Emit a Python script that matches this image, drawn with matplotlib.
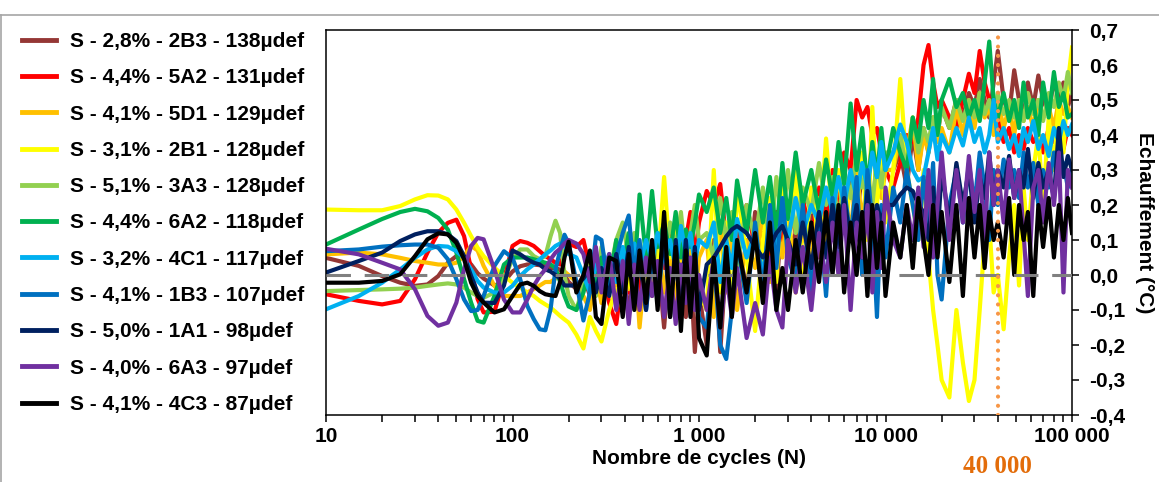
import matplotlib
matplotlib.use("Agg")
import matplotlib.pyplot as plt
from matplotlib.lines import Line2D
from matplotlib.ticker import FixedLocator, FixedFormatter, LogLocator, NullFormatter
import matplotlib.transforms as mtransforms

# ---------------- data ----------------
cycles = [10, 15, 20, 25, 30, 35, 40, 45, 50, 55, 60, 65, 70, 80, 90, 100, 110, 120, 130, 140,
          150, 160, 170, 180, 190, 200,
          220, 240, 260, 280, 300, 330, 360, 390, 420, 450, 480, 520, 560, 600, 650, 700, 750, 800, 850, 900,
          950, 1000,
          1100, 1200, 1300, 1400, 1500, 1600, 1800, 2000, 2200, 2400, 2600, 2800, 3000, 3300, 3600, 4000,
          4400, 4800, 5200, 5600, 6000, 6500, 7000, 7500, 8000, 8500, 9000, 9500, 10000,
          11000, 12000, 13000, 14000, 15000, 16000, 17000, 18000, 19000, 20000, 22000, 24000, 26000, 28000,
          30000, 32000, 34000, 36000, 38000, 40000, 43000, 46000, 49000, 52000, 55000, 58000, 62000, 66000,
          70000, 75000, 80000, 85000, 90000, 95000, 100000]

s_2B3 = [0.049, 0.026, -0.003, -0.022, -0.031, -0.027, -0.003, 0.035, 0.054, 0.050,
         0.030, 0.005, -0.010, -0.030, -0.020, 0.010, 0.025, 0.030, 0.030, 0.028,
         0.025, 0.020, 0.020, 0.015, 0.000, -0.020,
         -0.04, 0.00, -0.06, 0.04, -0.04, 0.05, -0.08, 0.03, -0.12, 0.06,
         -0.05, 0.08, -0.06, 0.05, -0.15, 0.06, -0.10, 0.04, -0.12, 0.02,
         -0.22, -0.05,
         -0.20, 0.10, -0.22, 0.05, -0.10, 0.12, -0.05, 0.18, 0.00, 0.15,
         -0.05, 0.20, 0.05, 0.12, -0.02, 0.18, 0.05, 0.22, 0.10, 0.25,
         0.12, 0.28, 0.15, 0.30, 0.20, 0.40, 0.25, 0.35, 0.30,
         0.30, 0.35, 0.25, 0.40, 0.30, 0.42, 0.35, 0.45, 0.40, 0.48,
         0.42, 0.50, 0.45, 0.52, 0.48, 0.56, 0.50, 0.45, 0.55, 0.64,
         0.50, 0.46, 0.585, 0.50, 0.45, 0.55, 0.48, 0.57, 0.50, 0.46,
         0.56, 0.50, 0.55, 0.48, 0.52]

s_5A2 = [-0.055, -0.074, -0.084, -0.074, -0.012, 0.064, 0.121, 0.149, 0.158, 0.111,
         0.016, -0.069, -0.107, -0.105, -0.012, 0.083, 0.097, 0.092, 0.083, 0.068,
         0.054, 0.045, 0.035, 0.030, 0.060, 0.090,
         0.08, 0.10, 0.02, -0.05, 0.05, -0.08, -0.14, 0.00, -0.05, 0.05,
         -0.06, 0.08, -0.02, 0.12, 0.02, 0.10, 0.14, 0.00, 0.10, 0.18,
         0.05, 0.15,
         0.24, 0.20, 0.26, 0.10, 0.15, 0.05, 0.20, 0.08, 0.12, 0.04,
         0.18, 0.10, 0.20, 0.12, 0.22, 0.10, 0.25, 0.15, 0.30, 0.20,
         0.35, 0.30, 0.50, 0.45, 0.48, 0.40, 0.42, 0.35, 0.30,
         0.25, 0.32, 0.40, 0.38, 0.45, 0.60, 0.657, 0.55, 0.48, 0.50,
         0.45, 0.42, 0.50, 0.575, 0.52, 0.64, 0.55, 0.50, 0.42, 0.45,
         0.38, 0.42, 0.35, 0.40, 0.36, 0.42, 0.38, 0.40, 0.35, 0.42,
         0.38, 0.40, 0.36, 0.42, 0.40]

s_5D1 = [0.059, 0.064, 0.059, 0.049, 0.040, 0.035, 0.030, 0.030, 0.035, 0.054,
         0.083, 0.070, 0.026, -0.031, -0.060, -0.060, -0.060, -0.050, -0.040, -0.030,
         -0.020, -0.020, -0.010, 0.000, 0.010, 0.000,
         -0.02, -0.06, -0.10, 0.00, -0.08, 0.04, -0.05, 0.06, -0.04, 0.08,
         -0.15, 0.05, -0.02, 0.10, -0.05, 0.08, -0.10, 0.10, -0.05, 0.12,
         -0.08, 0.05,
         0.10, -0.12, 0.15, -0.05, 0.12, -0.10, 0.10, 0.02, 0.18, -0.02,
         0.15, 0.05, 0.20, -0.05, 0.12, 0.05, 0.22, 0.08, 0.20, 0.10,
         0.25, 0.12, 0.30, 0.15, 0.28, 0.20, 0.32, 0.22, 0.30,
         0.30, 0.40, 0.35, 0.45, 0.30, 0.40, 0.35, 0.45, 0.38, 0.42,
         0.35, 0.48, 0.40, 0.50, 0.42, 0.52, 0.45, 0.48, 0.40, 0.50,
         0.42, 0.48, 0.40, 0.50, 0.44, 0.48, 0.42, 0.50, 0.45, 0.48,
         0.42, 0.50, 0.46, 0.48, 0.45]

s_2B1 = [0.187, 0.185, 0.185, 0.197, 0.216, 0.228, 0.227, 0.216, 0.187, 0.149,
         0.111, 0.078, 0.054, 0.021, -0.003, -0.022, -0.036, -0.050, -0.060, -0.074,
         -0.084, -0.093, -0.105, -0.117, -0.127, -0.136,
         -0.17, -0.21, -0.12, -0.16, -0.19, -0.10, -0.04, -0.10, 0.00, -0.08,
         0.05, -0.02, 0.08, 0.02, 0.28, 0.05, 0.14, -0.05, 0.10, -0.10,
         0.05, -0.05,
         -0.10, 0.30, -0.05, 0.15, -0.12, 0.25, 0.05, -0.16, 0.10, 0.22,
         -0.02, 0.28, 0.06, 0.30, 0.00, 0.25, 0.10, 0.39, 0.15, 0.30,
         0.12, 0.25, 0.20, 0.35, 0.10, 0.48, 0.20, 0.35, 0.15,
         0.30, 0.56, 0.30, 0.20, 0.10, 0.30, 0.05, -0.10, -0.20, -0.30,
         -0.35, -0.10, -0.25, -0.36, -0.30, -0.10, 0.10, 0.15, -0.05, 0.00,
         -0.155, 0.05, 0.20, -0.03, 0.25, 0.10, 0.30, 0.40, 0.20, 0.45,
         0.30, 0.50, 0.35, 0.55, 0.65]

s_3A3 = [-0.046, -0.043, -0.041, -0.039, -0.036, -0.031, -0.027, -0.024, -0.027, -0.036,
         -0.050, -0.060, -0.065, -0.050, -0.012, 0.045, 0.073, 0.073, 0.054, 0.045,
         0.054, 0.111, 0.155, 0.120, 0.000, -0.060,
         -0.10, -0.03, 0.03, -0.06, 0.08, 0.00, 0.10, 0.15, 0.05, 0.12,
         0.02, 0.10, 0.00, 0.12, 0.05, 0.15, 0.08, 0.18, 0.04, 0.12,
         0.20, 0.10,
         0.12, 0.05, 0.22, 0.10, 0.18, 0.02, 0.20, 0.10, 0.25, 0.08,
         0.28, 0.15, 0.30, 0.12, 0.25, 0.18, 0.32, 0.20, 0.28, 0.15,
         0.30, 0.22, 0.35, 0.25, 0.30, 0.20, 0.33, 0.25, 0.35,
         0.35, 0.40, 0.30, 0.45, 0.35, 0.42, 0.38, 0.45, 0.40, 0.48,
         0.42, 0.50, 0.44, 0.50, 0.45, 0.52, 0.46, 0.50, 0.44, 0.52,
         0.46, 0.50, 0.45, 0.50, 0.44, 0.52, 0.46, 0.50, 0.44, 0.52,
         0.48, 0.55, 0.50, 0.58, 0.52]

s_6A2 = [0.087, 0.130, 0.160, 0.180, 0.189, 0.182, 0.163, 0.130, 0.064, -0.012,
         -0.079, -0.131, -0.136, -0.060, 0.030, 0.050, 0.050, 0.050, 0.045, 0.040,
         0.035, 0.030, 0.020, -0.020, -0.060, -0.090,
         -0.10, -0.05, 0.02, -0.02, 0.05, -0.03, 0.10, 0.02, 0.12, 0.00,
         0.23, 0.05, 0.24, 0.08, 0.15, 0.06, 0.18, 0.05, 0.13, 0.08,
         0.15, 0.23,
         0.18, 0.25, 0.12, 0.22, 0.10, 0.27, 0.12, 0.30, 0.15, 0.28,
         0.12, 0.32, 0.16, 0.35, 0.20, 0.30, 0.18, 0.33, 0.22, 0.38,
         0.26, 0.49, 0.30, 0.42, 0.25, 0.38, 0.28, 0.42, 0.30,
         0.42, 0.35, 0.30, 0.45, 0.38, 0.50, 0.42, 0.56, 0.40, 0.50,
         0.56, 0.48, 0.52, 0.45, 0.50, 0.44, 0.55, 0.667, 0.50, 0.45,
         0.52, 0.44, 0.50, 0.42, 0.55, 0.45, 0.50, 0.40, 0.55, 0.45,
         0.58, 0.48, 0.52, 0.45, 0.46]

s_4C1 = [-0.098, -0.060, -0.022, 0.016, 0.049, 0.073, 0.083, 0.081, 0.068, 0.049,
         0.016, -0.017, -0.036, -0.050, -0.050, -0.031, -0.003, 0.016, 0.030, 0.045,
         0.059, 0.070, 0.083, 0.090, 0.085, 0.060,
         0.05, 0.00, -0.05, 0.03, 0.00, 0.06, -0.02, 0.08, 0.00, 0.09,
         0.02, 0.10, 0.04, 0.12, 0.05, 0.10, 0.02, 0.14, 0.06, 0.12,
         0.03, 0.10,
         0.08, 0.15, -0.02, 0.10, 0.02, 0.16, 0.05, 0.12, 0.00, 0.14,
         0.08, 0.18, 0.10, 0.22, 0.12, 0.20, 0.15, 0.25, 0.18, 0.28,
         0.20, 0.30, 0.22, 0.32, 0.25, 0.35, 0.28, 0.38, 0.30,
         0.35, 0.43, 0.38, 0.30, 0.27, 0.28, 0.35, 0.42, 0.33, 0.40,
         0.35, 0.42, 0.37, 0.45, 0.38, 0.42, 0.35, 0.40, 0.50, 0.38,
         0.42, 0.36, 0.40, 0.34, 0.42, 0.38, 0.44, 0.36, 0.40, 0.34,
         0.42, 0.38, 0.44, 0.40, 0.43]

s_1B3 = [0.068, 0.073, 0.081, 0.085, 0.087, 0.087, 0.078, 0.045, -0.012, -0.070,
         -0.103, -0.100, -0.060, 0.026, 0.068, 0.049, -0.012, -0.088, -0.126, -0.155,
         -0.158, -0.098, 0.016, 0.070, 0.115, 0.090,
         -0.02, -0.13, -0.05, 0.11, 0.10, -0.05, 0.05, 0.12, 0.17, 0.00,
         0.10, -0.10, 0.05, -0.08, 0.10, -0.05, 0.05, -0.10, 0.08, -0.05,
         0.06, -0.12,
         -0.15, 0.05, -0.20, -0.24, -0.10, 0.10, -0.08, 0.15, -0.05, 0.20,
         0.02, 0.22, 0.05, -0.02, 0.20, -0.05, 0.18, -0.06, 0.22, 0.05,
         0.25, 0.10, 0.28, 0.00, 0.30, 0.15, -0.12, 0.20, 0.05,
         0.25, 0.15, 0.30, 0.20, 0.10, 0.28, 0.15, 0.32, 0.00, -0.07,
         0.20, 0.30, 0.15, 0.32, 0.20, 0.35, 0.25, 0.10, 0.30, 0.20,
         0.33, 0.25, 0.30, 0.22, 0.35, 0.25, 0.32, 0.20, 0.30, 0.25,
         0.35, 0.28, 0.32, 0.25, 0.30]

s_1A1 = [0.007, 0.040, 0.064, 0.097, 0.116, 0.125, 0.125, 0.116, 0.097, 0.054,
         -0.003, -0.050, -0.079, -0.080, -0.030, 0.070, 0.059, 0.045, 0.035, 0.030,
         0.016, 0.010, 0.000, -0.010, -0.030, -0.030,
         -0.03, -0.01, 0.02, -0.05, 0.02, -0.06, 0.06, -0.05, 0.08, -0.08,
         0.05, -0.10, 0.08, -0.05, 0.12, -0.12, 0.10, -0.08, 0.10, -0.06,
         0.08, -0.10,
         0.03, 0.05, 0.08, 0.11, 0.13, 0.14, 0.12, 0.08, 0.05, 0.08,
         0.12, 0.14, 0.10, 0.03, 0.15, 0.02, 0.18, 0.05, 0.20, 0.08,
         0.22, 0.10, 0.20, 0.05, 0.24, 0.12, 0.20, 0.15, 0.20,
         0.20, 0.23, 0.25, 0.24, 0.20, 0.18, 0.10, 0.25, 0.10, 0.30,
         0.15, 0.32, 0.20, 0.30, 0.15, 0.28, 0.22, 0.35, 0.20, 0.30,
         0.25, 0.34, 0.22, 0.30, 0.25, 0.36, 0.22, 0.32, 0.25, 0.30,
         0.22, 0.42, 0.28, 0.34, 0.30]

s_6A3 = [0.075, 0.059, 0.035, 0.016, -0.041, -0.117, -0.145, -0.136, -0.079, 0.016,
         0.083, 0.106, 0.102, 0.016, -0.070, -0.107, -0.107, -0.070, -0.031, -0.003,
         0.016, 0.045, 0.064, 0.075, 0.090, 0.100,
         0.09, 0.06, -0.02, 0.08, -0.05, 0.06, -0.10, 0.04, -0.14, 0.03,
         -0.10, 0.05, -0.06, 0.04, -0.12, 0.02, -0.14, 0.03, -0.08, 0.05,
         -0.10, 0.00,
         -0.10, 0.05, -0.15, 0.00, -0.12, 0.02, -0.18, -0.08, -0.17, 0.05,
         -0.10, -0.15, 0.10, -0.05, 0.08, -0.10, 0.12, -0.02, 0.15, 0.00,
         0.20, -0.10, 0.15, 0.05, 0.20, -0.05, 0.18, 0.02, 0.25,
         0.10, 0.05, 0.20, 0.10, 0.25, 0.08, 0.30, 0.05, 0.20, 0.35,
         0.10, 0.30, 0.15, 0.34, 0.18, 0.30, 0.10, 0.35, 0.20, 0.30,
         0.15, 0.33, 0.22, 0.30, 0.12, -0.06, 0.25, 0.30, 0.15, 0.32,
         0.20, 0.35, -0.05, 0.30, 0.25]

s_4C3 = [-0.022, -0.022, -0.017, 0.002, 0.054, 0.102, 0.119, 0.116, 0.092, 0.045,
         -0.022, -0.060, -0.079, -0.107, -0.098, -0.060, -0.027, -0.022, -0.031, -0.046,
         -0.055, -0.058, -0.060, -0.020, 0.050, 0.095,
         -0.05, 0.00, 0.07, -0.12, -0.14, 0.05, 0.04, -0.12, 0.06, -0.10,
         0.07, -0.08, 0.10, -0.10, 0.18, -0.12, 0.08, -0.16, 0.07, -0.12,
         0.06, -0.18,
         -0.23, 0.05, -0.15, 0.08, -0.12, 0.10, -0.05, 0.12, -0.08, 0.15,
         -0.10, 0.02, -0.10, 0.10, -0.05, 0.15, -0.02, 0.18, 0.00, 0.20,
         -0.05, 0.15, 0.00, 0.18, -0.06, 0.20, 0.02, 0.15, -0.06,
         0.15, 0.05, 0.20, 0.02, 0.22, 0.10, 0.00, 0.20, 0.05, 0.18,
         -0.02, 0.20, -0.06, 0.22, 0.05, 0.20, 0.02, 0.18, 0.10, 0.15,
         0.05, 0.22, 0.00, 0.20, 0.10, 0.18, -0.06, 0.20, 0.08, 0.22,
         0.05, 0.20, 0.10, 0.22, 0.12]

series_labels = ["S - 2,8% - 2B3 - 138µdef", "S - 4,4% - 5A2 - 131µdef", "S - 4,1% - 5D1 - 129µdef",
                 "S - 3,1% - 2B1 - 128µdef", "S - 5,1% - 3A3 - 128µdef", "S - 4,4% - 6A2 - 118µdef",
                 "S - 3,2% - 4C1 - 117µdef", "S - 4,1% - 1B3 - 107µdef", "S - 5,0% - 1A1 - 98µdef",
                 "S - 4,0% - 6A3 - 97µdef", "S - 4,1% - 4C3 - 87µdef"]
series_values = [s_2B3, s_5A2, s_5D1, s_2B1, s_3A3, s_6A2, s_4C1, s_1B3, s_1A1, s_6A3, s_4C3]
series_colors = ["#953735", "#FF0000", "#FFC000", "#FFFF00", "#92D050", "#00B050",
                 "#00B0F0", "#0070C0", "#002060", "#7030A0", "#000000"]

x_ticks = [10, 100, 1000, 10000, 100000]
x_tick_labels = ["10", "100", "1 000", "10 000", "100 000"]
y_ticks = [-0.4, -0.3, -0.2, -0.1, 0.0, 0.1, 0.2, 0.3, 0.4, 0.5, 0.6, 0.7]
y_tick_labels = ["-0,4", "-0,3", "-0,2", "-0,1", "0,0", "0,1", "0,2", "0,3", "0,4", "0,5", "0,6", "0,7"]
marker_cycles = 40000
marker_label = "40 000"

for v in series_values:
    if len(v) != len(cycles):
        raise ValueError("length mismatch %d vs %d" % (len(v), len(cycles)))

# ---------------- figure ----------------
W, H = 1159, 482
fig = plt.figure(figsize=(W / 100, H / 100), dpi=100)
plt.rcParams['font.family'] = ['Liberation Sans', 'DejaVu Sans']
plt.rcParams['font.weight'] = 'bold'

ax = fig.add_axes([326 / W, 1 - 415 / H, (1072 - 326) / W, (415 - 30) / H])

handles = []
for vals, col, lab in zip(series_values, series_colors, series_labels):
    h, = ax.plot(cycles, vals, color=col, lw=3.0, label=lab, solid_joinstyle='round')
    handles.append(h)

ax.plot([cycles[0], cycles[-1]], [0, 0], color='#808080', lw=2.2, ls=(0, (8, 4.5)), zorder=5)
ax.axvline(marker_cycles, color='#F79646', lw=3.0, ls=(0, (0.01, 2.2)),
           dash_capstyle='round', zorder=6)

ax.set_xscale('log')
ax.set_xlim(10, 100000)
ax.set_ylim(-0.4, 0.7)

ax.xaxis.set_major_locator(FixedLocator(x_ticks))
ax.xaxis.set_major_formatter(FixedFormatter(x_tick_labels))
ax.xaxis.set_minor_locator(LogLocator(base=10, subs=[2, 3, 4, 5, 6, 7, 8, 9]))
ax.xaxis.set_minor_formatter(NullFormatter())

ax.yaxis.tick_right()
ax.yaxis.set_label_position('right')
ax.yaxis.set_major_locator(FixedLocator(y_ticks))
ax.yaxis.set_major_formatter(FixedFormatter(y_tick_labels))

ax.tick_params(axis='x', which='both', direction='out', length=5, width=1.1, pad=4,
               labelsize=15, colors='black')
ax.tick_params(axis='y', which='major', direction='out', length=5, width=1.1, pad=7,
               labelsize=15, left=False, right=True)
for lbl in ax.get_xticklabels() + ax.get_yticklabels():
    lbl.set_fontweight('bold')

for sp in ax.spines.values():
    sp.set_color('black')
    sp.set_linewidth(1.1)

ax.set_xlabel("Nombre de cycles (N)", fontsize=15, fontweight='bold', labelpad=2)
ax.set_ylabel("Echauffement (°C)", fontsize=15, fontweight='bold', rotation=270, labelpad=21)

trans = mtransforms.blended_transform_factory(ax.transData, ax.transAxes)
ax.text(marker_cycles, -0.135, marker_label, transform=trans, ha='center', va='center',
        fontsize=18, fontweight='bold', family=['Liberation Serif', 'DejaVu Serif'], color='#E36C09')

leg = fig.legend(handles=handles, labels=series_labels, loc='upper left',
                 bbox_to_anchor=(22 / W, 1 - 32 / H), bbox_transform=fig.transFigure,
                 frameon=False, fontsize=15, handlelength=1.65, handletextpad=0.65,
                 labelspacing=0.83, borderpad=0, borderaxespad=0)
for t in leg.get_texts():
    t.set_fontweight('bold')
for lh in leg.get_lines():
    lh.set_linewidth(3.5)

# outer frame lines
fig.add_artist(Line2D([0, 1], [1 - 15 / H, 1 - 15 / H], transform=fig.transFigure, color='#A6A6A6', lw=1.2))
fig.add_artist(Line2D([1.5 / W, 1.5 / W], [0, 1 - 15 / H], transform=fig.transFigure, color='#A6A6A6', lw=1.2))

fig.savefig("out.png", dpi=100)
